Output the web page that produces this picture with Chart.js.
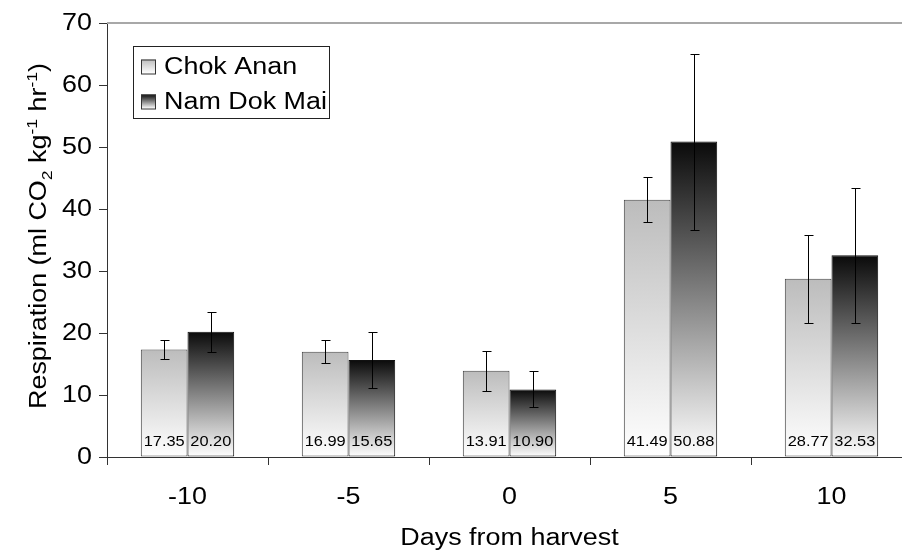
<!DOCTYPE html>
<html>
<head>
<meta charset="utf-8">
<script src="https://cdn.jsdelivr.net/npm/chart.js@4.4.0/dist/chart.umd.min.js"></script>
<style>
  html, body { margin: 0; padding: 0; background: #fff; overflow: hidden; }
  #wrap { width: 902px; height: 552px; overflow: hidden; }
</style>
</head>
<body>
<div id="wrap"><canvas id="chart" width="916" height="552"></canvas></div>
<script>
// data
const days = ['-10', '-5', '0', '5', '10'];
const chokAnan = [17.35, 16.99, 13.91, 41.49, 28.77];
const namDokMai = [20.20, 15.65, 10.90, 50.88, 32.53];
const chokAnanErr = [1.5, 1.9, 3.2, 3.6, 7.1];
const namDokMaiErr = [3.2, 4.5, 2.9, 14.2, 10.9];
const yMin = 0, yMax = 70, yStep = 10;

const FONT = '"Liberation Sans", Arial, sans-serif';
const STRETCH = 1.17; // the original text is a bit wide

// text drawn with a horizontal stretch, align = 'left' | 'center' | 'right'
function wideText(ctx, text, x, y, font, align) {
  ctx.save();
  ctx.font = font;
  ctx.textAlign = 'left';
  const w = ctx.measureText(text).width;
  ctx.translate(x, y);
  ctx.scale(STRETCH, 1);
  let x0 = 0;
  if (align === 'center') x0 = -w / 2;
  else if (align === 'right') x0 = -w;
  ctx.fillText(text, x0, 0);
  ctx.restore();
}

// vertical gradient per bar: dark at the bar top, white at the base
function barGradient(topColor, bottomColor) {
  return (c) => {
    const chart = c.chart;
    const area = chart.chartArea;
    if (!area || c.type !== 'data') return topColor;
    const top = chart.scales.y.getPixelForValue(c.raw);
    const g = chart.ctx.createLinearGradient(0, top, 0, area.bottom);
    g.addColorStop(0, topColor);
    g.addColorStop(1, bottomColor);
    return g;
  };
}

const topLine = {
  id: 'topLine',
  beforeDatasetsDraw(chart) {
    const { ctx, chartArea } = chart;
    ctx.save();
    ctx.strokeStyle = '#a8a8a8';
    ctx.lineWidth = 2;
    ctx.beginPath();
    ctx.moveTo(chartArea.left, chartArea.top);
    ctx.lineTo(chartArea.right, chartArea.top);
    ctx.stroke();
    ctx.restore();
  }
};

// tick labels from the scales, drawn wide
const tickText = {
  id: 'tickText',
  afterDraw(chart) {
    const ctx = chart.ctx;
    const { x, y } = chart.scales;
    ctx.save();
    ctx.fillStyle = '#000';
    ctx.textBaseline = 'middle';
    y.ticks.forEach((t, i) => {
      wideText(ctx, String(t.value), 92, y.getPixelForTick(i) + 1, '23px ' + FONT, 'right');
    });
    x.ticks.forEach((t, i) => {
      wideText(ctx, chart.data.labels[t.value], x.getPixelForTick(i), 498, '23px ' + FONT, 'center');
    });
    ctx.restore();
  }
};

const barExtras = {
  id: 'barExtras',
  afterDatasetsDraw(chart) {
    const ctx = chart.ctx;
    const y = chart.scales.y;
    ctx.save();
    chart.data.datasets.forEach((ds, i) => {
      const meta = chart.getDatasetMeta(i);
      meta.data.forEach((bar, j) => {
        // value label at the foot of the bar
        ctx.fillStyle = '#000';
        ctx.textBaseline = 'alphabetic';
        wideText(ctx, ds.data[j].toFixed(2), bar.x, chart.chartArea.bottom - 11, '14px ' + FONT, 'center');
        // error bar
        const v = ds.data[j], e = ds.errors[j];
        const yt = Math.round(y.getPixelForValue(v + e)) + 0.5;
        const yb = Math.round(y.getPixelForValue(v - e)) + 0.5;
        const x = Math.round(bar.x) + 0.5;
        ctx.strokeStyle = '#000';
        ctx.lineWidth = 1;
        ctx.beginPath();
        ctx.moveTo(x, yt); ctx.lineTo(x, yb);
        ctx.moveTo(x - 4, yt); ctx.lineTo(x + 5, yt);
        ctx.moveTo(x - 4, yb); ctx.lineTo(x + 5, yb);
        ctx.stroke();
      });
    });
    ctx.restore();
  }
};

const boxLegend = {
  id: 'boxLegend',
  afterDraw(chart) {
    const ctx = chart.ctx;
    ctx.save();
    ctx.fillStyle = '#fff';
    ctx.fillRect(133, 46, 196, 72);
    ctx.strokeStyle = '#222';
    ctx.lineWidth = 1;
    ctx.strokeRect(133.5, 46.5, 196, 72);
    const rows = [66.5, 101.5];
    chart.data.datasets.forEach((ds, i) => {
      const cy = rows[i];
      const g = ctx.createLinearGradient(0, cy - 7, 0, cy + 7);
      g.addColorStop(0, ds.topColor);
      g.addColorStop(1, '#ffffff');
      ctx.fillStyle = g;
      ctx.fillRect(141, cy - 7, 15, 15);
      ctx.strokeStyle = '#333';
      ctx.strokeRect(141.5, cy - 6.5, 14, 14);
      ctx.fillStyle = '#000';
      ctx.textBaseline = 'middle';
      wideText(ctx, ds.label, 164, cy + 1, '23px ' + FONT, 'left');
    });
    ctx.restore();
  }
};

// axis titles, y title with sub/superscripts
const axisTitles = {
  id: 'axisTitles',
  afterDraw(chart) {
    const ctx = chart.ctx;
    const area = chart.chartArea;
    ctx.save();
    ctx.fillStyle = '#000';
    ctx.textBaseline = 'alphabetic';
    wideText(ctx, 'Days from harvest', (area.left + area.right) / 2, 545, '23px ' + FONT, 'center');

    const parts = [
      ['Respiration (ml CO', 0], ['2', 1], [' kg', 0], ['-1', -1],
      [' hr', 0], ['-1', -1], [')', 0]
    ];
    const fontFor = (k) => (k === 0 ? '23px ' : '15px ') + FONT;
    let total = 0;
    parts.forEach(([t, k]) => { ctx.font = fontFor(k); total += ctx.measureText(t).width; });
    ctx.translate(46, (area.top + area.bottom) / 2 - 4);
    ctx.rotate(-Math.PI / 2);
    ctx.scale(STRETCH, 1);
    ctx.textAlign = 'left';
    let x = -total / 2;
    parts.forEach(([t, k]) => {
      ctx.font = fontFor(k);
      const dy = k === 1 ? 6 : (k === -1 ? -9 : 0);
      ctx.fillText(t, x, dy);
      x += ctx.measureText(t).width;
    });
    ctx.restore();
  }
};

new Chart(document.getElementById('chart'), {
  type: 'bar',
  data: {
    labels: days,
    datasets: [
      {
        label: 'Chok Anan',
        data: chokAnan,
        errors: chokAnanErr,
        topColor: '#bcbcbc',
        backgroundColor: barGradient('#bcbcbc', '#ffffff'),
        borderColor: '#444',
        borderWidth: 1,
        borderSkipped: false,
        categoryPercentage: 0.58,
        barPercentage: 1.0
      },
      {
        label: 'Nam Dok Mai',
        data: namDokMai,
        errors: namDokMaiErr,
        topColor: '#0a0a0a',
        backgroundColor: barGradient('#0a0a0a', '#ffffff'),
        borderColor: '#111',
        borderWidth: 1,
        borderSkipped: false,
        categoryPercentage: 0.58,
        barPercentage: 1.0
      }
    ]
  },
  options: {
    responsive: false,
    animation: false,
    layout: { padding: { top: 23, right: 4, left: 0, bottom: 0 } },
    plugins: {
      legend: { display: false },
      tooltip: { enabled: false }
    },
    scales: {
      x: {
        grid: { drawOnChartArea: false, drawTicks: true, tickLength: 8, color: '#333' },
        border: { color: '#333', width: 1 },
        ticks: { color: 'rgba(0,0,0,0)', font: { family: FONT, size: 23 }, padding: 18 },
        afterFit(s) { s.height = 95; }
      },
      y: {
        min: yMin,
        max: yMax,
        ticks: { stepSize: yStep, color: 'rgba(0,0,0,0)', font: { family: FONT, size: 23 }, padding: 7 },
        grid: { drawOnChartArea: false, drawTicks: true, tickLength: 8, color: '#333' },
        border: { color: '#333', width: 1 },
        afterFit(s) { s.width = 107; }
      }
    }
  },
  plugins: [topLine, barExtras, boxLegend, axisTitles, tickText]
});
</script>
</body>
</html>
